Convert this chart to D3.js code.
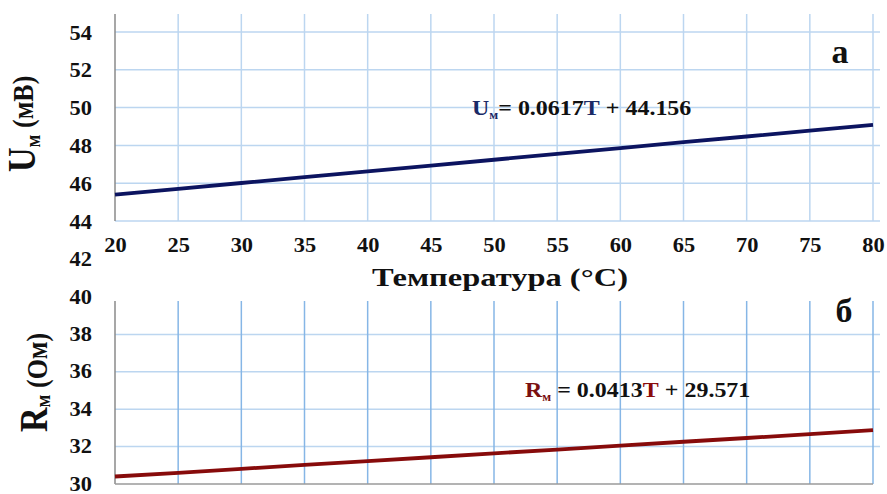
<!DOCTYPE html>
<html><head><meta charset="utf-8">
<script src="https://cdn.jsdelivr.net/npm/d3@7"></script>
<style>
html,body{margin:0;padding:0;background:#fff;}
svg text{font-family:"Liberation Serif","Times New Roman","DejaVu Serif",serif !important;font-weight:bold;}
</style></head>
<body><svg id="c" width="887" height="494"></svg>
<script>
// Data
const temps = [20,25,30,35,40,45,50,55,60,65,70,75,80];
const uValues = [45.39,45.70,46.01,46.32,46.62,46.93,47.24,47.55,47.86,48.17,48.47,48.78,49.09];
const rValues = [30.40,30.60,30.81,31.02,31.22,31.43,31.64,31.84,32.05,32.26,32.46,32.67,32.88];
const xTicks = [20,25,30,35,40,45,50,55,60,65,70,75,80];
const uTicks = [42,44,46,48,50,52,54];
const uGrid = [44,46,48,50,52,54];
const rTicks = [30,32,34,36,38,40];
const rGrid = [32,34,36,38];

const svg = d3.select("#c");
const x = d3.scaleLinear().domain([20,80]).range([115,873]);
const yU = d3.scaleLinear().domain([44,54]).range([221,32]);
const yR = d3.scaleLinear().domain([30,40]).range([484,297]);

// ---- Top chart grid
const gTop = svg.append("g");
gTop.selectAll("line.h").data(uGrid).join("line")
  .attr("x1", x(20)).attr("x2", 880)
  .attr("y1", d=>yU(d)).attr("y2", d=>yU(d))
  .attr("stroke","#bcd6f0").attr("stroke-width",1.5);
gTop.selectAll("line.v").data(xTicks.slice(1)).join("line")
  .attr("x1", d=>x(d)).attr("x2", d=>x(d))
  .attr("y1", 14).attr("y2", yU(44))
  .attr("stroke","#bcd6f0").attr("stroke-width",1.5);
gTop.append("line").attr("x1",x(20)).attr("x2",x(20)).attr("y1",14).attr("y2",yU(44))
  .attr("stroke","#8a8a8a").attr("stroke-width",1.5);

function styleTicks(g, dy){
  g.select(".domain").remove();
  g.selectAll("text").attr("font-size",20).attr("fill","#111").attr("dy",dy)
    .attr("transform","scale(1.12,1)");
}

// top y axis
const ayU = d3.axisLeft(yU).tickValues(uTicks).tickSize(0).tickPadding(0);
const gAyU = svg.append("g").attr("transform","translate(92,0)").call(ayU);
styleTicks(gAyU, "0.35em");

// x axis labels
const ax = d3.axisBottom(x).tickValues(xTicks).tickSize(0).tickPadding(0);
const gAx = svg.append("g").attr("transform","translate(0,238)").call(ax);
styleTicks(gAx, "0.71em");

// top line
const lineU = d3.line().x((d,i)=>x(temps[i])).y(d=>yU(d));
svg.append("path").datum(uValues).attr("d", lineU).attr("fill","none")
  .attr("stroke","#0c1460").attr("stroke-width",3.8);

// equation top
const eqU = svg.append("text").attr("transform","translate(472,115) scale(1.09,1)").attr("font-size",22).attr("fill","#111");
eqU.append("tspan").attr("fill","#1a2a66").text("U");
eqU.append("tspan").attr("fill","#1a2a66").attr("font-size",12).attr("dy",4).text("м");
eqU.append("tspan").attr("dy",-4).text("= 0.0617");
eqU.append("tspan").attr("fill","#1a2a66").text("T");
eqU.append("tspan").text(" + 44.156");

svg.append("text").attr("x",840).attr("y",63).attr("text-anchor","middle").attr("font-size",34).attr("fill","#111").text("а");

// axis title
svg.append("text").attr("transform","translate(500,286) scale(1.3,1)").attr("text-anchor","middle").attr("font-size",25)
  .attr("fill","#111").text("Температура (°C)");

// y title top
const tU = svg.append("text").attr("transform","translate(35,172) scale(1.15,1) rotate(-90)").attr("fill","#111");
tU.append("tspan").attr("font-size",34).text("U");
tU.append("tspan").attr("font-size",19).attr("dy",4).text("м");
tU.append("tspan").attr("font-size",26).attr("dy",-6).text(" (мВ)");

// ---- Bottom chart
const gBot = svg.append("g");
gBot.selectAll("line.h").data(rGrid).join("line")
  .attr("x1", x(20)).attr("x2", 880)
  .attr("y1", d=>yR(d)).attr("y2", d=>yR(d))
  .attr("stroke","#bcd6f0").attr("stroke-width",1.5);
gBot.selectAll("line.v").data(xTicks.slice(1)).join("line")
  .attr("x1", d=>x(d)).attr("x2", d=>x(d))
  .attr("y1", 301).attr("y2", yR(30))
  .attr("stroke","#86b6e6").attr("stroke-width",1.5);
gBot.append("line").attr("x1",x(20)).attr("x2",x(20)).attr("y1",301).attr("y2",yR(30))
  .attr("stroke","#8a8a8a").attr("stroke-width",1.5);
gBot.append("line").attr("x1",x(20)).attr("x2",x(80)).attr("y1",yR(30)).attr("y2",yR(30))
  .attr("stroke","#9a9a9a").attr("stroke-width",1.5);

const ayR = d3.axisLeft(yR).tickValues(rTicks).tickSize(0).tickPadding(0);
const gAyR = svg.append("g").attr("transform","translate(92,-1)").call(ayR);
styleTicks(gAyR, "0.35em");

const lineR = d3.line().x((d,i)=>x(temps[i])).y(d=>yR(d));
svg.append("path").datum(rValues).attr("d", lineR).attr("fill","none")
  .attr("stroke","#870b0b").attr("stroke-width",3.8);

const eqR = svg.append("text").attr("transform","translate(525,397) scale(1.09,1)").attr("font-size",22).attr("fill","#111");
eqR.append("tspan").attr("fill","#7a1010").text("R");
eqR.append("tspan").attr("fill","#7a1010").attr("font-size",12).attr("dy",4).text("м");
eqR.append("tspan").attr("dy",-4).text(" = 0.0413");
eqR.append("tspan").attr("fill","#8a0c0c").text("T");
eqR.append("tspan").text(" + 29.571");

svg.append("text").attr("x",844).attr("y",322).attr("text-anchor","middle").attr("font-size",34).attr("fill","#111").text("б");

const tR = svg.append("text").attr("transform","translate(47,432) scale(1.15,1) rotate(-90)").attr("fill","#111");
tR.append("tspan").attr("font-size",34).text("R");
tR.append("tspan").attr("font-size",19).attr("dy",3).text("м");
tR.append("tspan").attr("font-size",26).attr("dy",-3).text(" (Ом)");
</script></body></html>
